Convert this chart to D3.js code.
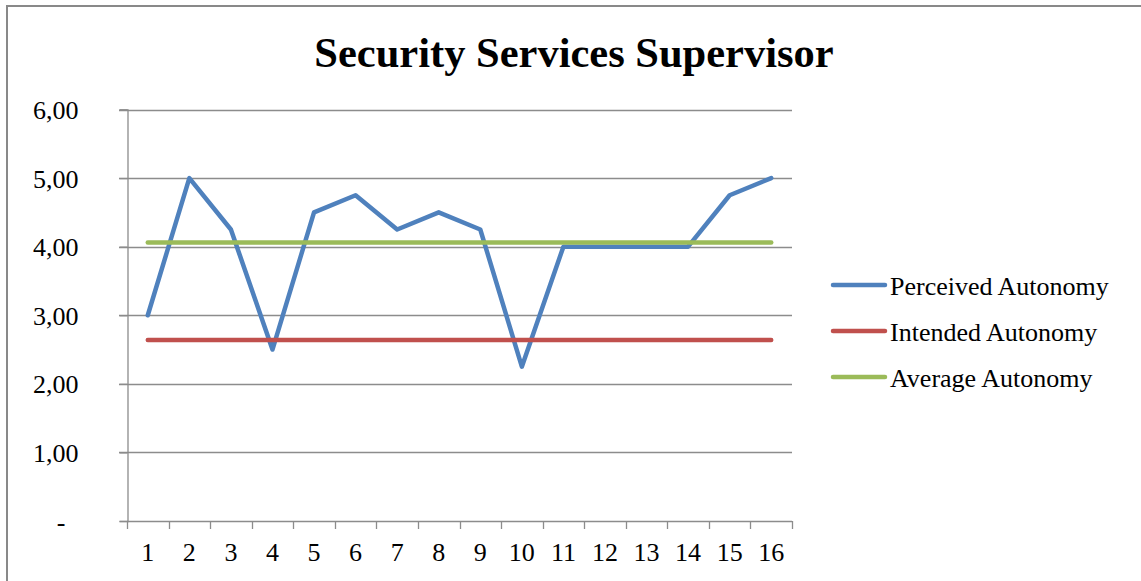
<!DOCTYPE html>
<html>
<head>
<meta charset="utf-8">
<script src="https://cdn.jsdelivr.net/npm/d3@7"></script>
<style>
  html, body { margin: 0; padding: 0; background: #fff; }
  svg { display: block; }
  text { font-family: "Liberation Serif", "Times New Roman", serif; fill: #000; }
</style>
</head>
<body>
<svg id="chart" width="1141" height="581"></svg>
<script>
const title = "Security Services Supervisor";
const categories = ["1","2","3","4","5","6","7","8","9","10","11","12","13","14","15","16"];
const perceived = [3.00, 5.00, 4.25, 2.50, 4.50, 4.75, 4.25, 4.50, 4.25, 2.25, 4.00, 4.00, 4.00, 4.00, 4.75, 5.00];
const intendedValue = 2.64;
const averageValue = 4.0625;
const yTicks = [0, 1, 2, 3, 4, 5, 6];
const seriesNames = ["Perceived Autonomy", "Intended Autonomy", "Average Autonomy"];
const seriesColors = ["#4F81BD", "#C0504D", "#9BBB59"];

const intended = categories.map(() => intendedValue);
const average = categories.map(() => averageValue);
const seriesData = [perceived, intended, average];

const svg = d3.select("#chart");
const gridColor = "#8c8c8c";
const fontFam = '"Liberation Serif", "Times New Roman", serif';
const fontSize = "26px";

// outer border (extends beyond page on right/bottom)
svg.append("rect")
  .attr("x", 7).attr("y", 6).attr("width", 1300).attr("height", 800)
  .attr("fill", "none").attr("stroke", "#898989").attr("stroke-width", 2);

const plot = { left: 127, right: 792, top: 109.5, bottom: 521 };

const x = d3.scaleBand().domain(categories).range([plot.left, plot.right]).padding(0);
const y = d3.scaleLinear().domain([0, 6]).range([plot.bottom, plot.top]);

// title
svg.append("text")
  .attr("x", 574).attr("y", 67)
  .attr("text-anchor", "middle")
  .style("font-size", "42.5px").style("font-weight", "bold")
  .text(title);

// gridlines
svg.append("g").selectAll("line").data(yTicks.filter(d => d > 0)).join("line")
  .attr("x1", plot.left - 8).attr("x2", plot.right)
  .attr("y1", d => Math.round(y(d)) + 0.5).attr("y2", d => Math.round(y(d)) + 0.5)
  .attr("stroke", gridColor).attr("stroke-width", 1.3);

// y axis
const yAxis = d3.axisLeft(y).tickValues(yTicks).tickSize(8).tickPadding(0)
  .tickFormat(d => d === 0 ? "-" : d3.format(".2f")(d).replace(".", ","));
const gy = svg.append("g").attr("transform", `translate(${plot.left + 0.5},0)`).call(yAxis);
gy.select(".domain").attr("stroke", gridColor).attr("stroke-width", 1.3);
gy.selectAll(".tick line").attr("stroke", gridColor).attr("stroke-width", 1.3);
gy.selectAll(".tick text")
  .attr("x", d => d === 0 ? -62 : -49)
  .attr("dy", "0.35em")
  .style("font-size", fontSize)
  .style("font-family", fontFam)
  .attr("fill", "#000");

// x axis
const xAxis = d3.axisBottom(x).tickSize(0).tickPadding(0);
const gx = svg.append("g").attr("transform", `translate(0,${plot.bottom + 0.5})`).call(xAxis);
gx.select(".domain").attr("stroke", gridColor).attr("stroke-width", 1.3).attr("d", `M${plot.left},0H${plot.right}`);
gx.selectAll(".tick text")
  .attr("y", 39).attr("dy", 0)
  .style("font-size", fontSize)
  .style("font-family", fontFam)
  .attr("fill", "#000");
// x tick marks at band boundaries
const boundaries = categories.map(c => x(c)).concat([plot.right]);
svg.append("g").selectAll("line").data(boundaries).join("line")
  .attr("x1", d => Math.round(d) + 0.5).attr("x2", d => Math.round(d) + 0.5)
  .attr("y1", plot.bottom).attr("y2", plot.bottom + 8)
  .attr("stroke", gridColor).attr("stroke-width", 1.3);

// lines
const line = d3.line()
  .x((d, i) => x(categories[i]) + x.bandwidth() / 2)
  .y(d => y(d));

[0, 1, 2].forEach(i => {
  svg.append("path")
    .datum(seriesData[i])
    .attr("d", line)
    .attr("fill", "none")
    .attr("stroke", seriesColors[i])
    .attr("stroke-width", 4.5)
    .attr("stroke-linejoin", "round")
    .attr("stroke-linecap", "round");
});

// legend
const legendY = [285, 331, 377];
const lg = svg.append("g");
seriesNames.forEach((name, i) => {
  lg.append("line")
    .attr("x1", 833).attr("x2", 885)
    .attr("y1", legendY[i]).attr("y2", legendY[i])
    .attr("stroke", seriesColors[i]).attr("stroke-width", 4.5)
    .attr("stroke-linecap", "round");
  lg.append("text")
    .attr("x", 890).attr("y", legendY[i] + 9.5)
    .style("font-size", fontSize)
    .text(name);
});
</script>
</body>
</html>
